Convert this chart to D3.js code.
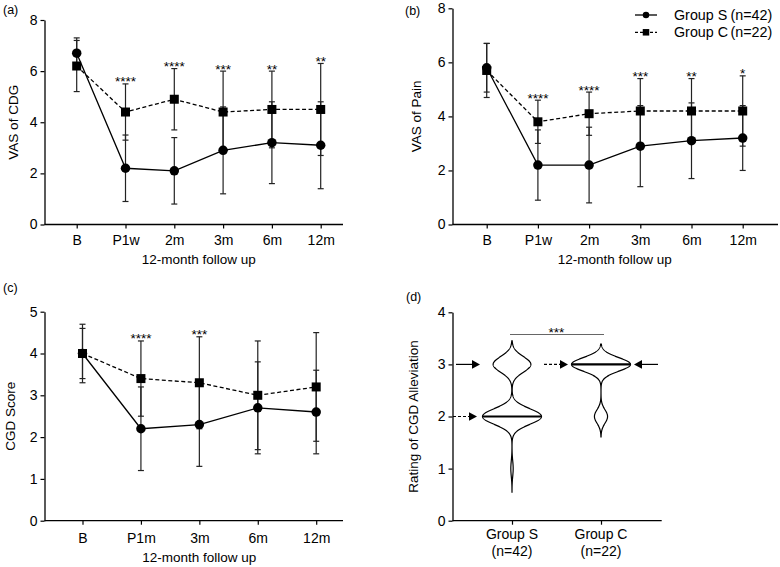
<!DOCTYPE html>
<html><head><meta charset="utf-8">
<script src="https://cdn.jsdelivr.net/npm/d3@7"></script>
<style>
body{margin:0;background:#fff}
svg{display:block}
text{font-family:"Liberation Sans",Arial,sans-serif;fill:#000}
</style>
</head><body>
<svg id="c" width="780" height="567"></svg>
<script>
// ---------- DATA ----------
const seriesNames = ["Group S", "Group C"];
const seriesN = ["(n=42)", "(n=22)"];

const catsAB = ["B", "P1w", "2m", "3m", "6m", "12m"];
const vasCdgS   = [6.7, 2.2, 2.1, 2.9, 3.2, 3.1];
const vasCdgSsd = [0.6, 1.3, 1.3, 1.7, 1.6, 1.7];
const vasCdgC   = [6.2, 4.4, 4.9, 4.4, 4.5, 4.5];
const vasCdgCsd = [1.0, 1.1, 1.2, 1.6, 1.5, 1.8];
const vasCdgSig = ["", "****", "****", "***", "**", "**"];

const vasPainS   = [5.8, 2.2, 2.2, 2.9, 3.1, 3.2];
const vasPainSsd = [0.9, 1.3, 1.4, 1.5, 1.4, 1.2];
const vasPainC   = [5.7, 3.8, 4.1, 4.2, 4.2, 4.2];
const vasPainCsd = [1.0, 0.8, 0.8, 1.2, 1.2, 1.3];
const vasPainSig = ["", "****", "****", "***", "**", "*"];

const catsC = ["B", "P1m", "3m", "6m", "12m"];
const cgdS   = [4.0, 2.2, 2.3, 2.7, 2.6];
const cgdSsd = [0.7, 1.0, 1.0, 1.1, 1.0];
const cgdC   = [4.0, 3.4, 3.3, 3.0, 3.2];
const cgdCsd = [0.6, 0.9, 1.1, 1.3, 1.3];
const cgdSig = ["", "****", "***", "", ""];

const ratingLevels  = [1, 2, 3];
const ratingCountsS = [1, 25, 16];
const ratingCountsC = [0, 4, 18];
const ratingSig = "***";

const ticks8 = [0, 2, 4, 6, 8];
const ticks5 = [0, 1, 2, 3, 4, 5];
const ticks4 = [0, 1, 2, 3, 4];

// ---------- DRAW ----------
const svg = d3.select("#c");
const FONT = "'Liberation Sans', Arial, sans-serif";

function styleAxis(g, fs) {
  g.attr("font-family", FONT).attr("font-size", fs);
  g.selectAll("line").attr("stroke", "#000").attr("stroke-width", 1.2);
  g.selectAll("path.domain").attr("stroke", "#000").attr("stroke-width", 1.3);
  g.selectAll("text").attr("fill", "#000");
}

function marker(sel, type, size) {
  if (type === "circle") {
    sel.append("circle").attr("r", size / 2).attr("fill", "#000");
  } else {
    sel.append("rect").attr("x", -size / 2).attr("y", -size / 2)
      .attr("width", size).attr("height", size).attr("fill", "#000");
  }
}

function linePanel(o) {
  const x = d3.scalePoint().domain(o.cats).range([o.p0, o.p1]);
  const y = d3.scaleLinear().domain([0, o.ymax]).range([o.yBot, o.yTop]);

  // y axis
  const gy = svg.append("g").attr("transform", `translate(${o.ax},0)`)
    .call(d3.axisLeft(y).tickValues(o.ticks).tickSize(4).tickSizeOuter(0).tickPadding(3).tickFormat(d3.format("d")));
  styleAxis(gy, 14);

  // x axis
  const gx = svg.append("g").attr("transform", `translate(0,${o.yBot})`)
    .call(d3.axisBottom(x).tickSize(4).tickPadding(o.xPad));
  gx.select(".domain").remove();
  styleAxis(gx, 14);
  svg.append("line").attr("x1", o.ax).attr("x2", o.axEnd)
    .attr("y1", o.yBot).attr("y2", o.yBot).attr("stroke", "#000").attr("stroke-width", 1.3);

  // titles
  svg.append("text").attr("x", (o.p0 + o.p1) / 2).attr("y", o.xTitleY)
    .attr("text-anchor", "middle").attr("font-size", 13.5).text("12-month follow up");
  svg.append("text").attr("transform", `translate(${o.yTitleX},${(o.yBot + o.yTop) / 2}) rotate(-90)`)
    .attr("text-anchor", "middle").attr("font-size", 13.5).text(o.yTitle);
  svg.append("text").attr("x", o.labX).attr("y", o.labY).attr("font-size", 12.5).text(o.label);

  const series = [
    { m: o.S, sd: o.Ssd, type: "circle", dash: null },
    { m: o.C, sd: o.Csd, type: "square", dash: "4,2.5" }
  ];
  // error bars
  series.forEach(s => {
    const g = svg.append("g").attr("stroke", "#222").attr("stroke-width", 1.2);
    o.cats.forEach((c, i) => {
      const cx = x(c), lo = y(s.m[i] - s.sd[i]), hi = y(s.m[i] + s.sd[i]);
      g.append("line").attr("x1", cx).attr("x2", cx).attr("y1", lo).attr("y2", hi);
      g.append("line").attr("x1", cx - 3).attr("x2", cx + 3).attr("y1", lo).attr("y2", lo);
      g.append("line").attr("x1", cx - 3).attr("x2", cx + 3).attr("y1", hi).attr("y2", hi);
    });
  });
  // lines
  series.forEach(s => {
    svg.append("path").datum(s.m)
      .attr("d", d3.line().x((d, i) => x(o.cats[i])).y(d => y(d)))
      .attr("fill", "none").attr("stroke", "#000").attr("stroke-width", 1.3)
      .attr("stroke-dasharray", s.dash);
  });
  // markers
  series.forEach(s => {
    o.cats.forEach((c, i) => {
      const g = svg.append("g").attr("transform", `translate(${x(c)},${y(s.m[i])})`);
      marker(g, s.type, s.type === "circle" ? 9.5 : 9);
    });
  });
  // significance stars
  o.cats.forEach((c, i) => {
    if (!o.sig[i]) return;
    const top = Math.max(o.S[i] + o.Ssd[i], o.C[i] + o.Csd[i]);
    svg.append("text").attr("x", x(c)).attr("y", y(top) + 2.5)
      .attr("text-anchor", "middle").attr("font-size", 13.5).text(o.sig[i]);
  });
}

linePanel({ cats: catsAB, p0: 76.7, p1: 320.7, ax: 44.5, axEnd: 343, yBot: 224.5, yTop: 20, ymax: 8, ticks: ticks8,
  xPad: 7, xTitleY: 264, yTitleX: 18, yTitle: "VAS of CDG", label: "(a)", labX: 3, labY: 14,
  S: vasCdgS, Ssd: vasCdgSsd, C: vasCdgC, Csd: vasCdgCsd, sig: vasCdgSig });

linePanel({ cats: catsAB, p0: 486.7, p1: 742.7, ax: 452.5, axEnd: 778, yBot: 224.5, yTop: 8.3, ymax: 8, ticks: ticks8,
  xPad: 7, xTitleY: 264, yTitleX: 421, yTitle: "VAS of Pain", label: "(b)", labX: 405, labY: 15,
  S: vasPainS, Ssd: vasPainSsd, C: vasPainC, Csd: vasPainCsd, sig: vasPainSig });

linePanel({ cats: catsC, p0: 82.5, p1: 316.2, ax: 44.5, axEnd: 343, yBot: 520.7, yTop: 311.7, ymax: 5, ticks: ticks5,
  xPad: 8, xTitleY: 561.5, yTitleX: 15, yTitle: "CGD Score", label: "(c)", labX: 3, labY: 292,
  S: cgdS, Ssd: cgdSsd, C: cgdC, Csd: cgdCsd, sig: cgdSig });

// legend (panel b)
[0, 1].forEach(k => {
  const ly = k === 0 ? 15 : 32.3;
  svg.append("line").attr("x1", 635).attr("x2", 657).attr("y1", ly).attr("y2", ly)
    .attr("stroke", "#000").attr("stroke-width", 1.3).attr("stroke-dasharray", k === 0 ? null : "3,2");
  const g = svg.append("g").attr("transform", `translate(646,${ly})`);
  marker(g, k === 0 ? "circle" : "square", 6.5);
  svg.append("text").attr("x", 674).attr("y", ly + 5).attr("font-size", 14.3).text(seriesNames[k]);
  svg.append("text").attr("x", 730.5).attr("y", ly + 5).attr("font-size", 14.3).text(seriesN[k]);
});

// ---------- panel (d): violins ----------
(function () {
  const ax = 452.5, axEnd = 661.7, yBot = 520.7, yTop = 312.3;
  const x = d3.scalePoint().domain(seriesNames).range([512, 601]);
  const y = d3.scaleLinear().domain([0, 4]).range([yBot, yTop]);

  const gy = svg.append("g").attr("transform", `translate(${ax},0)`)
    .call(d3.axisLeft(y).tickValues(ticks4).tickSize(4).tickSizeOuter(0).tickPadding(3).tickFormat(d3.format("d")));
  styleAxis(gy, 14);
  const gx = svg.append("g").attr("transform", `translate(0,${yBot})`)
    .call(d3.axisBottom(x).tickSize(4).tickFormat(() => ""));
  gx.select(".domain").remove();
  styleAxis(gx, 14);
  svg.append("line").attr("x1", ax).attr("x2", axEnd).attr("y1", yBot).attr("y2", yBot)
    .attr("stroke", "#000").attr("stroke-width", 1.3);
  seriesNames.forEach((n, k) => {
    svg.append("text").attr("x", x(n)).attr("y", 538.5).attr("text-anchor", "middle").attr("font-size", 14).text(n);
    svg.append("text").attr("x", x(n)).attr("y", 555.5).attr("text-anchor", "middle").attr("font-size", 14).text(seriesN[k]);
  });
  svg.append("text").attr("transform", `translate(418,${(yBot + yTop) / 2}) rotate(-90)`)
    .attr("text-anchor", "middle").attr("font-size", 13.5).text("Rating of CGD Alleviation");
  svg.append("text").attr("x", 406).attr("y", 301).attr("font-size", 12.5).text("(d)");

  const halfMax = 29.5;
  const groups = [
    { name: seriesNames[0], counts: ratingCountsS, h: 0.15 },
    { name: seriesNames[1], counts: ratingCountsC, h: 0.13 }
  ];
  groups.forEach(gp => {
    const present = ratingLevels.filter((l, i) => gp.counts[i] > 0);
    const lo = d3.min(present) - 3 * gp.h, hi = d3.max(present) + 3 * gp.h;
    const dens = v => d3.sum(ratingLevels, (l, i) => gp.counts[i] * Math.exp(-0.5 * ((v - l) / gp.h) ** 2));
    const pts = d3.range(lo, hi + 1e-9, 0.005).map(v => [v, dens(v)]);
    const dmax = d3.max(pts, p => p[1]);
    const w = d => d / dmax * halfMax;
    const cx = x(gp.name);
    svg.append("path").datum(pts)
      .attr("d", d3.area().y(p => y(p[0])).x0(p => cx - w(p[1])).x1(p => cx + w(p[1])))
      .attr("fill", "none").attr("stroke", "#000").attr("stroke-width", 1.2);
    // median
    const total = d3.sum(gp.counts);
    let cum = 0, med = null;
    ratingLevels.forEach((l, i) => { cum += gp.counts[i]; if (med === null && cum >= total / 2) med = l; });
    const mw = w(dens(med));
    svg.append("line").attr("x1", cx - mw).attr("x2", cx + mw).attr("y1", y(med)).attr("y2", y(med))
      .attr("stroke", "#000").attr("stroke-width", 2.2);
  });

  // arrows
  const arrows = [
    { group: 0, value: 3, dir: 1, dashed: false, off: 32 },
    { group: 0, value: 2, dir: 1, dashed: true, off: 35 },
    { group: 1, value: 3, dir: 1, dashed: true, off: 33 },
    { group: 1, value: 3, dir: -1, dashed: false, off: 33 }
  ];
  arrows.forEach(a => {
    const cx = x(seriesNames[a.group]);
    const tip = cx - a.dir * a.off, yy = y(a.value);
    const base = tip - a.dir * 8, tail = tip - a.dir * 24;
    svg.append("line").attr("x1", tail).attr("x2", base).attr("y1", yy).attr("y2", yy)
      .attr("stroke", "#000").attr("stroke-width", 1.2).attr("stroke-dasharray", a.dashed ? "3,2" : null);
    svg.append("path").attr("d", `M${tip},${yy}L${base},${yy - 4.3}L${base},${yy + 4.3}Z`).attr("fill", "#000");
  });

  // significance bracket
  svg.append("line").attr("x1", x(seriesNames[0]) - 2).attr("x2", x(seriesNames[1]) + 3)
    .attr("y1", 334.5).attr("y2", 334.5).attr("stroke", "#666").attr("stroke-width", 1);
  svg.append("text").attr("x", (x(seriesNames[0]) + x(seriesNames[1])) / 2).attr("y", 336.5)
    .attr("text-anchor", "middle").attr("font-size", 13.5).text(ratingSig);
})();
</script>
</body></html>
